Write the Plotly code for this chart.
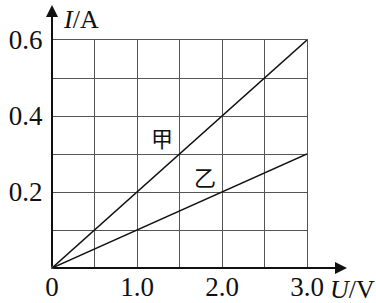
import plotly.graph_objects as go

# Data
U_jia = [0.0, 3.0]
I_jia = [0.0, 0.6]
U_yi = [0.0, 3.0]
I_yi = [0.0, 0.3]

x_tickvals = [0, 0.5, 1.0, 1.5, 2.0, 2.5, 3.0]
x_ticktext = ["0", "", "1.0", "", "2.0", "", "3.0"]
y_tickvals = [0, 0.1, 0.2, 0.3, 0.4, 0.5, 0.6]
y_ticktext = ["", "", "0.2", "", "0.4", "", "0.6"]

W, H = 376, 303
L, R, T, B = 52, 69, 40, 35
pw = W - L - R
ph = H - T - B

fig = go.Figure()
line_style = dict(color="#111111", width=1.5)
fig.add_trace(go.Scatter(x=U_jia, y=I_jia, mode="lines", line=line_style, hoverinfo="skip"))
fig.add_trace(go.Scatter(x=U_yi, y=I_yi, mode="lines", line=line_style, hoverinfo="skip"))

font = dict(family="Liberation Serif", size=26, color="#111111")
tfont = dict(family="Liberation Serif", size=27, color="#111111")
grid = "#555555"

fig.update_layout(
    width=W, height=H,
    margin=dict(l=L, r=R, t=T, b=B, autoexpand=False),
    paper_bgcolor="white", plot_bgcolor="white",
    showlegend=False,
    font=font,
    xaxis=dict(range=[0, 3.0], tickvals=x_tickvals, ticktext=x_ticktext,
               showgrid=True, gridcolor=grid, gridwidth=1, zeroline=False,
               showline=True, linecolor=grid, linewidth=1, mirror=True, automargin=False,
               ticks="", ticklabelstandoff=-5, tickfont=tfont, fixedrange=True),
    yaxis=dict(range=[0, 0.6], tickvals=y_tickvals, ticktext=y_ticktext,
               showgrid=True, gridcolor=grid, gridwidth=1, zeroline=False,
               showline=True, linecolor=grid, linewidth=1, mirror=True, automargin=False,
               ticks="", ticklabelstandoff=3, tickfont=tfont, fixedrange=True),
)

# axis arrows
x_end = (347 - L) / pw
y_end = (268 - 5) / ph
fig.add_annotation(x=x_end, y=0, xref="paper", yref="paper", ax=-(347 - L), ay=0,
                   text="", showarrow=True,
                   arrowhead=2, arrowsize=1.2, arrowwidth=2, arrowcolor="#111111")
fig.add_annotation(x=0, y=y_end, xref="paper", yref="paper", ax=0, ay=(268 - 5),
                   text="", showarrow=True,
                   arrowhead=2, arrowsize=1.2, arrowwidth=2, arrowcolor="#111111")

# axis titles
fig.add_annotation(x=(61 - L) / pw, y=(268 - 19) / ph, xref="paper", yref="paper",
                   text="<i>I</i>/A", showarrow=False, xanchor="left", yanchor="middle", font=font)
fig.add_annotation(x=(328 - L) / pw, y=(268 - 289) / ph, xref="paper", yref="paper",
                   text="<i>U</i>/V", showarrow=False, xanchor="left", yanchor="middle", font=font)

# series labels
cjk = dict(family="Noto Sans CJK SC", size=22, color="#111111")
fig.add_annotation(x=1.29, y=0.345, text="甲", showarrow=False, font=cjk)
fig.add_annotation(x=1.80, y=0.242, text="乙", showarrow=False, font=cjk)

fig.write_html("out.html")
